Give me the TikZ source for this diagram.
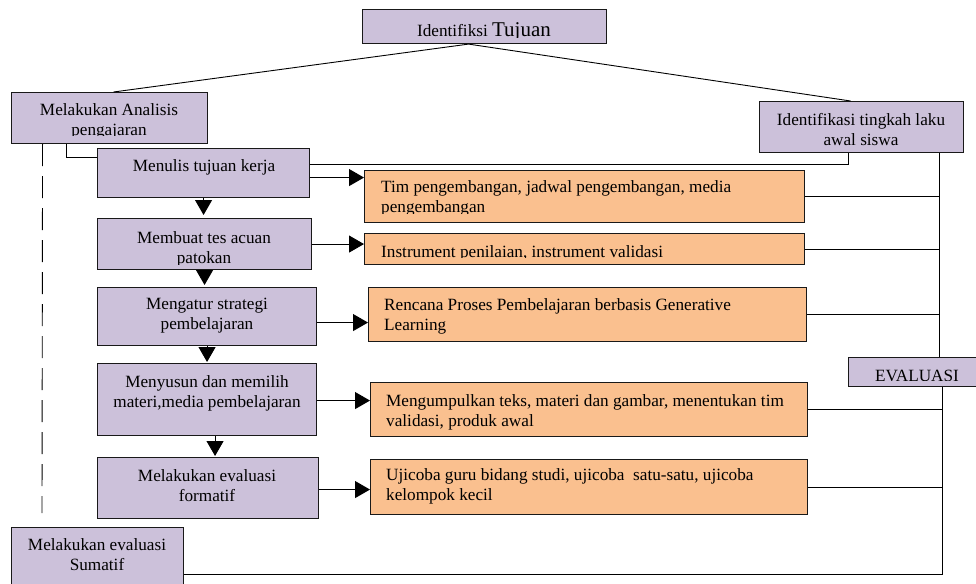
\documentclass[tikz,border=0pt]{standalone}
\usepackage{fontspec}
\setmainfont{Liberation Serif}
\usepackage{tikz}
\usetikzlibrary{arrows.meta}
\usetikzlibrary{positioning}
\usetikzlibrary{calc}
\definecolor{ungu}{RGB}{204,193,218}
\definecolor{oranye}{RGB}{250,192,143}
\tikzstyle{tahap}=[draw=black!90,fill=ungu,line width=1.1pt,anchor=north west,inner sep=0pt]
\tikzstyle{hasil}=[draw=black!90,fill=oranye,line width=1.1pt,anchor=north west,inner sep=0pt]
\tikzstyle{teks}=[inner sep=0pt,align=center,text=black,font=\fontsize{17.2}{20}\selectfont]
\tikzstyle{teksL}=[inner sep=0pt,align=left,text=black,font=\fontsize{17.2}{20}\selectfont]
\tikzstyle{garis}=[line width=0.9pt]
\tikzstyle{panah}=[line width=0.9pt,-{Triangle[length=15pt,width=17pt]}]

\begin{document}
\begin{tikzpicture}[x=1pt,y=-1pt]
\clip (0,0) rectangle (976,583);

\node [tahap,minimum width=244pt,minimum height=34pt] (tujuan) at (362,9) {};
\node [tahap,minimum width=196pt,minimum height=51pt] (analisis) at (11,92) {};
\node [tahap,minimum width=204pt,minimum height=51pt] (awal) at (759,101) {};
\node [tahap,minimum width=212pt,minimum height=49pt] (menulis) at (97,148) {};
\node [tahap,minimum width=214pt,minimum height=51pt] (tes) at (97,218) {};
\node [tahap,minimum width=219pt,minimum height=58pt] (strategi) at (97,287) {};
\node [tahap,minimum width=219pt,minimum height=72pt] (materi) at (97,363) {};
\node [tahap,minimum width=221pt,minimum height=61pt] (formatif) at (97,457) {};
\node [tahap,minimum width=172pt,minimum height=70pt] (sumatif) at (11,527) {};
\node [tahap,minimum width=138pt,minimum height=29pt] (evaluasi) at (848,357) {};
\node [hasil,minimum width=440pt,minimum height=52pt] (tim) at (364,170) {};
\node [hasil,minimum width=440pt,minimum height=31pt] (instrumen) at (364,233) {};
\node [hasil,minimum width=438pt,minimum height=54pt] (rpp) at (368,287) {};
\node [hasil,minimum width=437pt,minimum height=54pt] (kumpul) at (370,382) {};
\node [hasil,minimum width=437pt,minimum height=55pt] (ujicoba) at (370,459) {};

\begin{scope}
	\clip (362,9) rectangle (606,37.5);
	\node [teks,anchor=base] (tujuan-t) at (484,37) {Identifiksi {\fontsize{21}{24}\selectfont Tujuan}};
\end{scope}
\begin{scope}
	\clip (11,92) rectangle (207,135.5);
	\node [teks,anchor=north] (analisis-t) at (109,103) {Melakukan Analisis\\pengajaran};
\end{scope}
\begin{scope}
	\clip (97,218) rectangle (311,264);
	\node [teks,anchor=north] (tes-t) at (204,231) {Membuat tes acuan\\patokan};
\end{scope}
\begin{scope}
	\clip (848,357) rectangle (986,380.5);
	\node [teks,anchor=base] (evaluasi-t) at (917,381) {EVALUASI};
\end{scope}
\begin{scope}
	\clip (364,170) rectangle (804,213.5);
	\node [teksL,anchor=north west] (tim-t) at (381,180) {Tim pengembangan, jadwal pengembangan, media\\pengembangan};
\end{scope}
\begin{scope}
	\clip (364,233) rectangle (804,257.5);
	\node [teksL,anchor=base west] (instrumen-t) at (381,257) {Instrument penilaian, instrument validasi};
\end{scope}
\node [teks,anchor=north] (awal-t) at (861,113) {Identifikasi tingkah laku\\awal siswa};
\node [teks,anchor=base] (menulis-t) at (204,171) {Menulis tujuan kerja};
\node [teks,anchor=north] (strategi-t) at (207,298) {Mengatur strategi\\pembelajaran};
\node [teks,anchor=north] (materi-t) at (207,375) {Menyusun dan memilih\\materi,media pembelajaran};
\node [teks,anchor=north] (formatif-t) at (207,469) {Melakukan evaluasi\\formatif};
\node [teks,anchor=north] (sumatif-t) at (97,538) {Melakukan evaluasi\\Sumatif};
\node [teksL,anchor=north west] (rpp-t) at (384,298) {Rencana Proses Pembelajaran berbasis Generative\\Learning};
\node [teksL,anchor=north west] (kumpul-t) at (386,394) {Mengumpulkan teks, materi dan gambar, menentukan tim\\validasi, produk awal};
\node [teksL,anchor=north west] (ujicoba-t) at (386,468) {Ujicoba guru bidang studi, ujicoba\ \ satu-satu, ujicoba\\kelompok kecil};

\coordinate (kananA) at ([xshift=78pt]awal.south);
\coordinate (kananB) at ([xshift=25pt]evaluasi.south);
\coordinate (putus) at (42,513);

\draw [garis] ([xshift=-16pt]tujuan.south) -- ([xshift=4pt]analisis.north);
\draw [garis] ([xshift=-16pt]tujuan.south) -- ([xshift=-11pt]awal.north);
\draw [garis] ([xshift=-43pt]analisis.south) |- ([yshift=15.5pt]menulis.west);
\draw [garis,dash pattern=on 22pt off 10pt] ([xshift=-67pt]analisis.south) -- (putus);
\draw [garis] ([yshift=8.5pt]menulis.east) -| ([xshift=-13pt]awal.south);

\draw [panah,shorten >=3pt] (menulis.south) -- (menulis.south |- tes.north);
\draw [panah,shorten >=2pt] (tes.south) -- (tes.south |- strategi.north);
\draw [panah,shorten >=1pt] (strategi.south) -- (strategi.south |- materi.north);
\draw [panah,shorten >=1pt] ([xshift=8pt]materi.south) -- ([xshift=8pt]materi.south |- formatif.north);

\draw [panah] ([yshift=-4.5pt]menulis.east) -- ([yshift=-4.5pt]menulis.east -| tim.west);
\draw [panah] (tes.east) -- (tes.east -| instrumen.west);
\draw [panah] ([yshift=-6pt]strategi.east) -- ([yshift=-6pt]strategi.east -| rpp.west);
\draw [panah] ([yshift=-1pt]materi.east) -- ([yshift=-1pt]materi.east -| kumpul.west);
\draw [panah] ([yshift=-1.5pt]formatif.east) -- ([yshift=-1.5pt]formatif.east -| ujicoba.west);

\draw [garis] (kananA) -- (kananA |- evaluasi.north);
\draw [garis] (tim.east) -- (tim.east -| kananA);
\draw [garis] (instrumen.east) -- (instrumen.east -| kananA);
\draw [garis] (rpp.east) -- (rpp.east -| kananA);
\draw [garis] (kananB) |- ([yshift=-12pt]sumatif.east);
\draw [garis] (kumpul.east) -- (kumpul.east -| kananB);
\draw [garis] (ujicoba.east) -- (ujicoba.east -| kananB);
\end{tikzpicture}
\end{document}
